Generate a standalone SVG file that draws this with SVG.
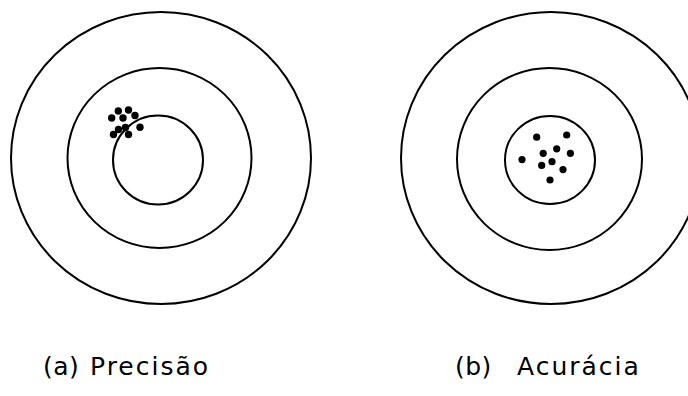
<svg xmlns="http://www.w3.org/2000/svg" width="688" height="396" viewBox="0 0 688 396">
<style>
.ring{fill:none;stroke:#000;stroke-width:2}
.dot{fill:#000}
.lbl{font-family:"DejaVu Sans","Liberation Sans",sans-serif;font-size:25px;fill:#000;letter-spacing:2px}
.tag{letter-spacing:0.5px}
</style>
<rect width="688" height="396" fill="#fff"/>
<g id="target-a">
<ellipse class="ring" cx="161" cy="158" rx="150" ry="146"/>
<ellipse class="ring" cx="159.5" cy="158" rx="92" ry="90"/>
<ellipse class="ring" cx="158" cy="160" rx="45" ry="44.5"/>
<g class="dot">
<circle cx="111.7" cy="118" r="3.7"/>
<circle cx="118.3" cy="111" r="3.7"/>
<circle cx="128.5" cy="110" r="3.7"/>
<circle cx="123" cy="118" r="3.7"/>
<circle cx="135" cy="115.5" r="3.7"/>
<circle cx="140" cy="127.3" r="3.7"/>
<circle cx="113.5" cy="134.5" r="3.7"/>
<circle cx="118.5" cy="129.5" r="3.7"/>
<circle cx="128.5" cy="134.5" r="3.7"/>
<circle cx="125.5" cy="127.5" r="3.7"/>
</g>
</g>
<g id="target-b">
<ellipse class="ring" cx="551" cy="158" rx="150" ry="146"/>
<ellipse class="ring" cx="549.5" cy="159" rx="92.5" ry="91"/>
<ellipse class="ring" cx="550" cy="160" rx="45" ry="44"/>
<g class="dot">
<circle cx="536.7" cy="137.2" r="3.6"/>
<circle cx="566.7" cy="135" r="3.6"/>
<circle cx="556.7" cy="148.8" r="3.6"/>
<circle cx="543.2" cy="153.3" r="3.6"/>
<circle cx="570.4" cy="153.3" r="3.6"/>
<circle cx="522" cy="159.6" r="3.6"/>
<circle cx="552" cy="161.7" r="3.6"/>
<circle cx="541.7" cy="165.4" r="3.6"/>
<circle cx="563" cy="169.6" r="3.6"/>
<circle cx="550" cy="180" r="3.6"/>
</g>
</g>
<g id="label-a"><text class="lbl tag" x="43" y="375">(a)</text><text class="lbl" x="90" y="375">Precisão</text></g>
<g id="label-b"><text class="lbl tag" x="455" y="375">(b)</text><text class="lbl" x="517" y="375">Acurácia</text></g>
<g id="connectors"/>
</svg>
